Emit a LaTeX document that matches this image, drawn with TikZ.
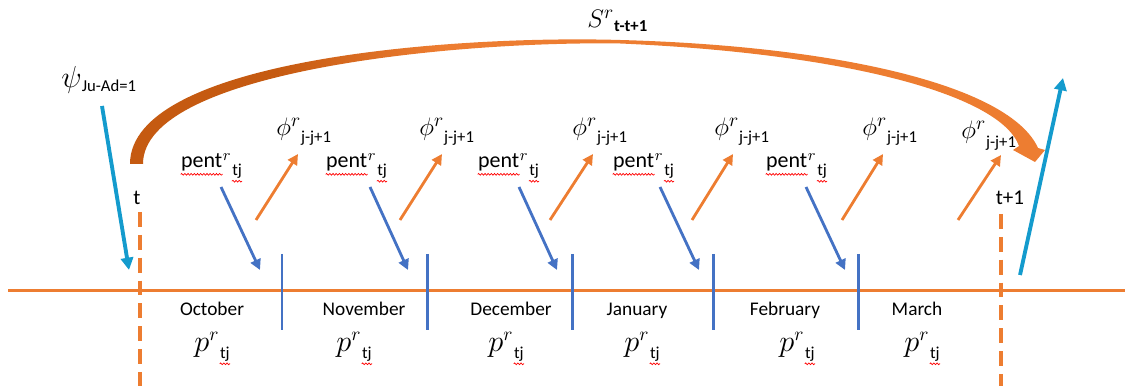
\documentclass[tikz,border=0pt]{standalone}
\usepackage{fontspec}
\setmainfont{Carlito}
\usetikzlibrary{arrows.meta, decorations.pathmorphing}
\usepackage{xcolor}
\definecolor{tlorange}{RGB}{237,125,49}
\definecolor{tldark}{RGB}{197,90,17}
\definecolor{tlblue}{RGB}{68,114,196}
\definecolor{tlcyan}{RGB}{20,155,205}

% red spell-check wave under a word
\newcommand{\spellwave}[1]{\tikz[baseline=(w.base)]{\node[inner sep=0pt, anchor=base] (w) {#1};
    \draw[red, line width=0.4pt, decorate, decoration={snake, amplitude=0.5pt, segment length=1.8pt}]
      ([yshift=-1.4pt]w.south west) -- ([yshift=-1.4pt]w.south east);}}
% lowered text index
\newcommand{\lowtxt}[2][3.5pt]{\raisebox{-#1}{\fontsize{9.5}{11}\selectfont #2}}

\pgfdeclarehorizontalshading{arcshade}{100bp}{color(0bp)=(tldark); color(33bp)=(tldark); color(42bp)=(tlorange); color(100bp)=(tlorange)}

\begin{document}
\begin{tikzpicture}[
    month/.style={font=\fontsize{11}{13}\selectfont, anchor=base, inner sep=0pt},
    pentlab/.style={font=\fontsize{12.5}{14}\selectfont, anchor=base west, inner sep=0pt},
    philab/.style={font=\fontsize{15}{17}\selectfont, anchor=base west, inner sep=0pt},
    plab/.style={font=\fontsize{16}{18}\selectfont, anchor=base west, inner sep=0pt},
    ticklab/.style={font=\fontsize{12}{14}\selectfont, anchor=base, inner sep=0pt},
    axisline/.style={tlorange, line width=1.7pt},
    bound/.style={tlorange, line width=2pt, dash pattern=on 8.5pt off 4.5pt},
    monthsep/.style={tlblue, line width=1.7pt},
    inarr/.style={-{Triangle[length=6pt, width=6pt]}, tlblue, line width=1.6pt},
    outarr/.style={-{Triangle[length=6pt, width=6pt]}, tlorange, line width=1.6pt},
    flowarr/.style={-{Triangle[length=7pt, width=7pt]}, tlcyan, line width=2.2pt},
]
\useasboundingbox (0,0) rectangle (22.5,7.72);

% ─── Time axis and the two bounds t, t+1 ─────────────────────────
\coordinate (axL) at (0.16, 1.90);
\coordinate (axR) at (22.5, 1.90);
\draw[axisline] (axL) -- (axR);

\node[ticklab] (tlab)  at (2.74, 3.62) {t};
\node[ticklab] (t1lab) at (20.20, 3.62) {t+1};
\coordinate (tTop)  at (2.80, 3.48);
\coordinate (tBot)  at (2.80, 0);
\coordinate (t1Top) at (20.02, 3.44);
\coordinate (t1Bot) at (20.02, 0);
\draw[bound] (tTop) -- (tBot);
\draw[bound] (t1Top) -- (t1Bot);

% ─── Month separators ────────────────────────────────────────────
\coordinate (s1t) at (5.64, 2.64);  \coordinate (s1b) at (5.64, 1.12);
\coordinate (s2t) at (8.54, 2.64);  \coordinate (s2b) at (8.54, 1.12);
\coordinate (s3t) at (11.44, 2.64); \coordinate (s3b) at (11.44, 1.12);
\coordinate (s4t) at (14.26, 2.64); \coordinate (s4b) at (14.26, 1.12);
\coordinate (s5t) at (17.16, 2.64); \coordinate (s5b) at (17.16, 1.12);
\draw[monthsep] (s1t) -- (s1b);
\draw[monthsep] (s2t) -- (s2b);
\draw[monthsep] (s3t) -- (s3b);
\draw[monthsep] (s4t) -- (s4b);
\draw[monthsep] (s5t) -- (s5b);

% ─── Months and their p labels ───────────────────────────────────
\node[month] (m1) at (4.24, 1.40)  {October};
\node[month] (m2) at (7.28, 1.40)  {November};
\node[month] (m3) at (10.22, 1.40) {December};
\node[month] (m4) at (12.74, 1.40) {January};
\node[month] (m5) at (15.70, 1.40) {February};
\node[month] (m6) at (18.34, 1.40) {March};

\node[plab] (p1) at (3.88, 0.68)  {$p^{r}$\lowtxt{\spellwave{tj}}};
\node[plab] (p2) at (6.72, 0.68)  {$p^{r}$\lowtxt{\spellwave{tj}}};
\node[plab] (p3) at (9.76, 0.68)  {$p^{r}$\lowtxt{\spellwave{tj}}};
\node[plab] (p4) at (12.48, 0.68) {$p^{r}$\lowtxt{\spellwave{tj}}};
\node[plab] (p5) at (15.58, 0.68) {$p^{r}$\lowtxt{\spellwave{tj}}};
\node[plab] (p6) at (18.08, 0.68) {$p^{r}$\lowtxt{\spellwave{tj}}};

% ─── pent labels, blue arrows down to the separators ─────────────
\node[pentlab] (pent1) at (3.60, 4.36)  {\spellwave{pent}$^{r}$\lowtxt[4.3pt]{\spellwave{tj}}};
\node[pentlab] (pent2) at (6.50, 4.36)  {\spellwave{pent}$^{r}$\lowtxt[4.3pt]{\spellwave{tj}}};
\node[pentlab] (pent3) at (9.54, 4.36)  {\spellwave{pent}$^{r}$\lowtxt[4.3pt]{\spellwave{tj}}};
\node[pentlab] (pent4) at (12.24, 4.36) {\spellwave{pent}$^{r}$\lowtxt[4.3pt]{\spellwave{tj}}};
\node[pentlab] (pent5) at (15.30, 4.36) {\spellwave{pent}$^{r}$\lowtxt[4.3pt]{\spellwave{tj}}};

\coordinate (b1s) at (4.42, 3.98);  \coordinate (b1e) at (5.20, 2.32);
\coordinate (b2s) at (7.40, 3.98);  \coordinate (b2e) at (8.16, 2.32);
\coordinate (b3s) at (10.38, 3.98); \coordinate (b3e) at (11.14, 2.32);
\coordinate (b4s) at (13.20, 3.98); \coordinate (b4e) at (13.98, 2.32);
\coordinate (b5s) at (16.12, 3.98); \coordinate (b5e) at (16.90, 2.32);
\draw[inarr] (b1s) -- (b1e);
\draw[inarr] (b2s) -- (b2e);
\draw[inarr] (b3s) -- (b3e);
\draw[inarr] (b4s) -- (b4e);
\draw[inarr] (b5s) -- (b5e);

% ─── phi labels, orange arrows up to them ────────────────────────
\node[philab] (phi1) at (5.52, 5.00)  {$\phi^{r}$\lowtxt{j-j+1}};
\node[philab] (phi2) at (8.38, 5.00)  {$\phi^{r}$\lowtxt{j-j+1}};
\node[philab] (phi3) at (11.44, 5.00) {$\phi^{r}$\lowtxt{j-j+1}};
\node[philab] (phi4) at (14.28, 5.00) {$\phi^{r}$\lowtxt{j-j+1}};
\node[philab] (phi5) at (17.24, 5.00) {$\phi^{r}$\lowtxt{j-j+1}};
\node[philab] (phi6) at (19.22, 4.94) {$\phi^{r}$\lowtxt[5pt]{j-j+1}};

\coordinate (o1s) at (5.12, 3.32);  \coordinate (o1e) at (5.96, 4.64);
\coordinate (o2s) at (8.00, 3.32);  \coordinate (o2e) at (8.84, 4.64);
\coordinate (o3s) at (11.00, 3.32); \coordinate (o3e) at (11.86, 4.64);
\coordinate (o4s) at (13.84, 3.32); \coordinate (o4e) at (14.66, 4.64);
\coordinate (o5s) at (16.84, 3.32); \coordinate (o5e) at (17.66, 4.64);
\coordinate (o6s) at (19.16, 3.32); \coordinate (o6e) at (20.02, 4.62);
\draw[outarr] (o1s) -- (o1e);
\draw[outarr] (o2s) -- (o2e);
\draw[outarr] (o3s) -- (o3e);
\draw[outarr] (o4s) -- (o4e);
\draw[outarr] (o5s) -- (o5e);
\draw[outarr] (o6s) -- (o6e);

% ─── Survival arc from t to t+1 ──────────────────────────────────
\shade[shading=arcshade] (2.60, 4.44) .. controls (2.60, 6.52) and (9.00, 7.02) .. (12.40, 6.92)
    .. controls (16.80, 6.80) and (20.20, 6.00) .. (20.76, 4.76)
    -- (20.90, 4.72) -- (20.70, 4.48) -- (20.26, 4.72) -- (20.38, 4.80)
    .. controls (20.00, 5.85) and (16.80, 6.66) .. (12.40, 6.85)
    .. controls (9.00, 6.90) and (2.86, 6.28) .. (2.86, 4.44) -- cycle;
\node[font=\fontsize{15}{17}\selectfont, anchor=base west, inner sep=0pt] (surv) at (11.74, 7.16)
    {$S^{r}$\lowtxt[1.8pt]{\bfseries t-t+1}};

% ─── Flow in at t, flow out at t+1 ───────────────────────────────
\node[font=\fontsize{16}{18}\selectfont, anchor=base west, inner sep=0pt] (psi) at (1.22, 5.96)
    {$\psi$\lowtxt[2pt]{Ju-Ad=1}};
\coordinate (inS)  at (2.04, 5.60);
\coordinate (inE)  at (2.58, 2.32);
\coordinate (outS) at (20.40, 2.22);
\coordinate (outE) at (21.26, 6.16);
\draw[flowarr] (inS) -- (inE);
\draw[flowarr] (outS) -- (outE);

\end{tikzpicture}
\end{document}
